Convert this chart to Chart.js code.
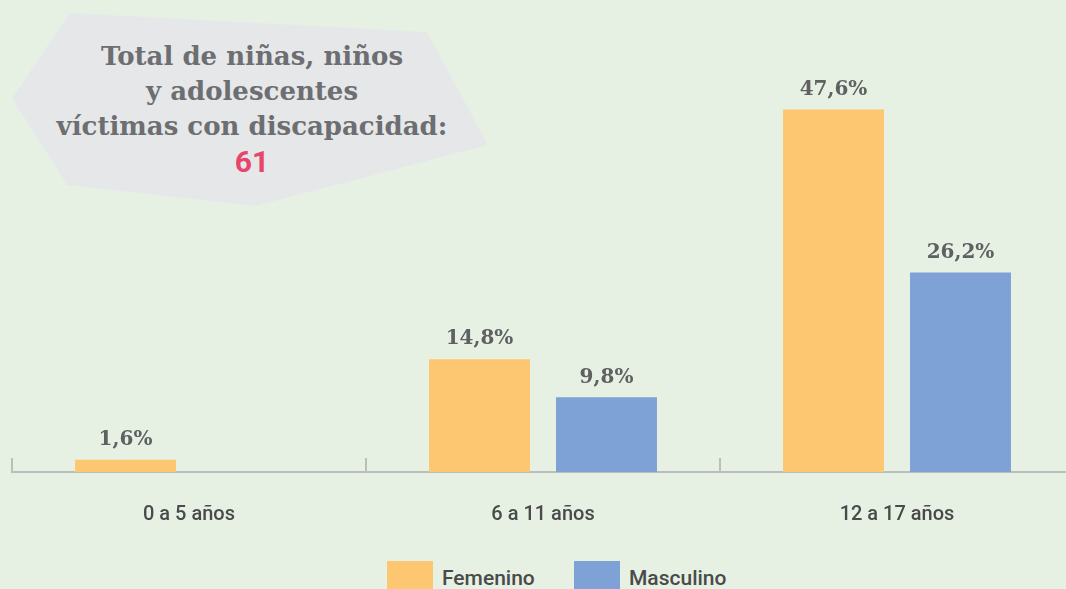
<!DOCTYPE html>
<html>
<head>
<meta charset="utf-8">
<script src="https://cdn.jsdelivr.net/npm/chart.js@4/dist/chart.umd.min.js"></script>
<style>
  html, body { margin: 0; padding: 0; width: 1066px; height: 589px; overflow: hidden; background: #e6f1e4; }
  #wrap { position: absolute; left: 0; top: 0; width: 1080px; height: 558px; }
  #callout {
    position: absolute; left: 0; top: 0; width: 500px; height: 220px;
    background: #e6e7e9;
    clip-path: polygon(70px 13px, 427px 32px, 488px 145px, 255px 206px, 67px 185px, 12px 98px);
  }
  #callout .txt {
    position: absolute; left: 52px; width: 400px; top: 39px; text-align: center;
    font-family: "DejaVu Serif", serif; font-weight: bold; font-size: 26px; line-height: 35px;
    color: #6d6e71;
  }
  #callout .num { color: #e8456b; font-family: Roboto, sans-serif; font-weight: 700; font-size: 30px; }
  #legend { position: absolute; top: 561px; left: 387px; display: flex; }
  #legend .item { display: flex; align-items: flex-start; width: 187px; }
  #legend .box { width: 46px; height: 32px; margin-right: 9px; }
  #legend .lab { font-family: Roboto, sans-serif; font-weight: 500; font-size: 21px; color: #4a4a4a; line-height: 34px; }
</style>
</head>
<body>
<div id="wrap"><canvas id="chart"></canvas></div>
<div id="callout">
  <div class="txt">Total de niñas, niños<br>y adolescentes<br>víctimas con discapacidad:<br><span class="num">61</span></div>
</div>
<div id="legend"></div>
<script>
"use strict";

const categories = ["0 a 5 años", "6 a 11 años", "12 a 17 años"];
const femenino = [1.6, 14.8, 47.6];
const masculino = [0, 9.8, 26.2];
const seriesNames = ["Femenino", "Masculino"];
const seriesColors = ["#fdc671", "#7ea2d5"];

// value labels above each bar, and small boundary ticks on the x axis
const barLabels = {
  id: "barLabels",
  afterDatasetsDraw(chart) {
    let ctx = chart.ctx;
    ctx.save();
    ctx.font = "bold 20px 'DejaVu Serif', serif";
    ctx.fillStyle = "#5f6062";
    ctx.textAlign = "center";
    ctx.textBaseline = "bottom";
    chart.data.datasets.forEach((ds, i) => {
      chart.getDatasetMeta(i).data.forEach((bar, j) => {
        if (!ds.data[j]) return;
        ctx.fillText(ds.data[j].toFixed(1).replace(".", ",") + "%", bar.x, bar.y - 10);
      });
    });
    // ticks between categories
    let x = chart.scales.x;
    let step = x.getPixelForValue(1) - x.getPixelForValue(0);
    ctx.strokeStyle = "#bdbdbd";
    ctx.lineWidth = 2;
    for (let k = 0; k <= categories.length; k++) {
      let px = x.getPixelForValue(0) - step / 2 + k * step;
      ctx.beginPath();
      ctx.moveTo(px, x.top - 14);
      ctx.lineTo(px, x.top);
      ctx.stroke();
    }
    ctx.restore();
  }
};

let myChart = new Chart(document.getElementById("chart"), {
  type: "bar",
  data: {
    labels: categories,
    datasets: [
      { label: seriesNames[0], data: femenino, backgroundColor: seriesColors[0] },
      { label: seriesNames[1], data: masculino, backgroundColor: seriesColors[1] }
    ]
  },
  options: {
    responsive: true,
    maintainAspectRatio: false,
    animation: false,
    categoryPercentage: 0.7175,
    barPercentage: 0.795,
    layout: { padding: { left: 12, right: 6, top: 15, bottom: 0 } },
    scales: {
      x: {
        grid: { display: false, drawTicks: false },
        border: { color: "#bdbdbd", width: 2 },
        ticks: { color: "#4a4a4a", font: { family: "Roboto", size: 20, weight: "500" }, padding: 31 }
      },
      y: { display: false, min: 0, max: 60 }
    },
    plugins: {
      legend: { display: false },
      tooltip: { enabled: false }
    }
  },
  plugins: [barLabels]
});

// legend from the chart's datasets
let legend = document.getElementById("legend");
for (let ds of myChart.data.datasets) {
  legend.innerHTML += `<div class="item"><div class="box" style="background:${ds.backgroundColor}"></div><div class="lab">${ds.label}</div></div>`;
}
</script>
</body>
</html>
